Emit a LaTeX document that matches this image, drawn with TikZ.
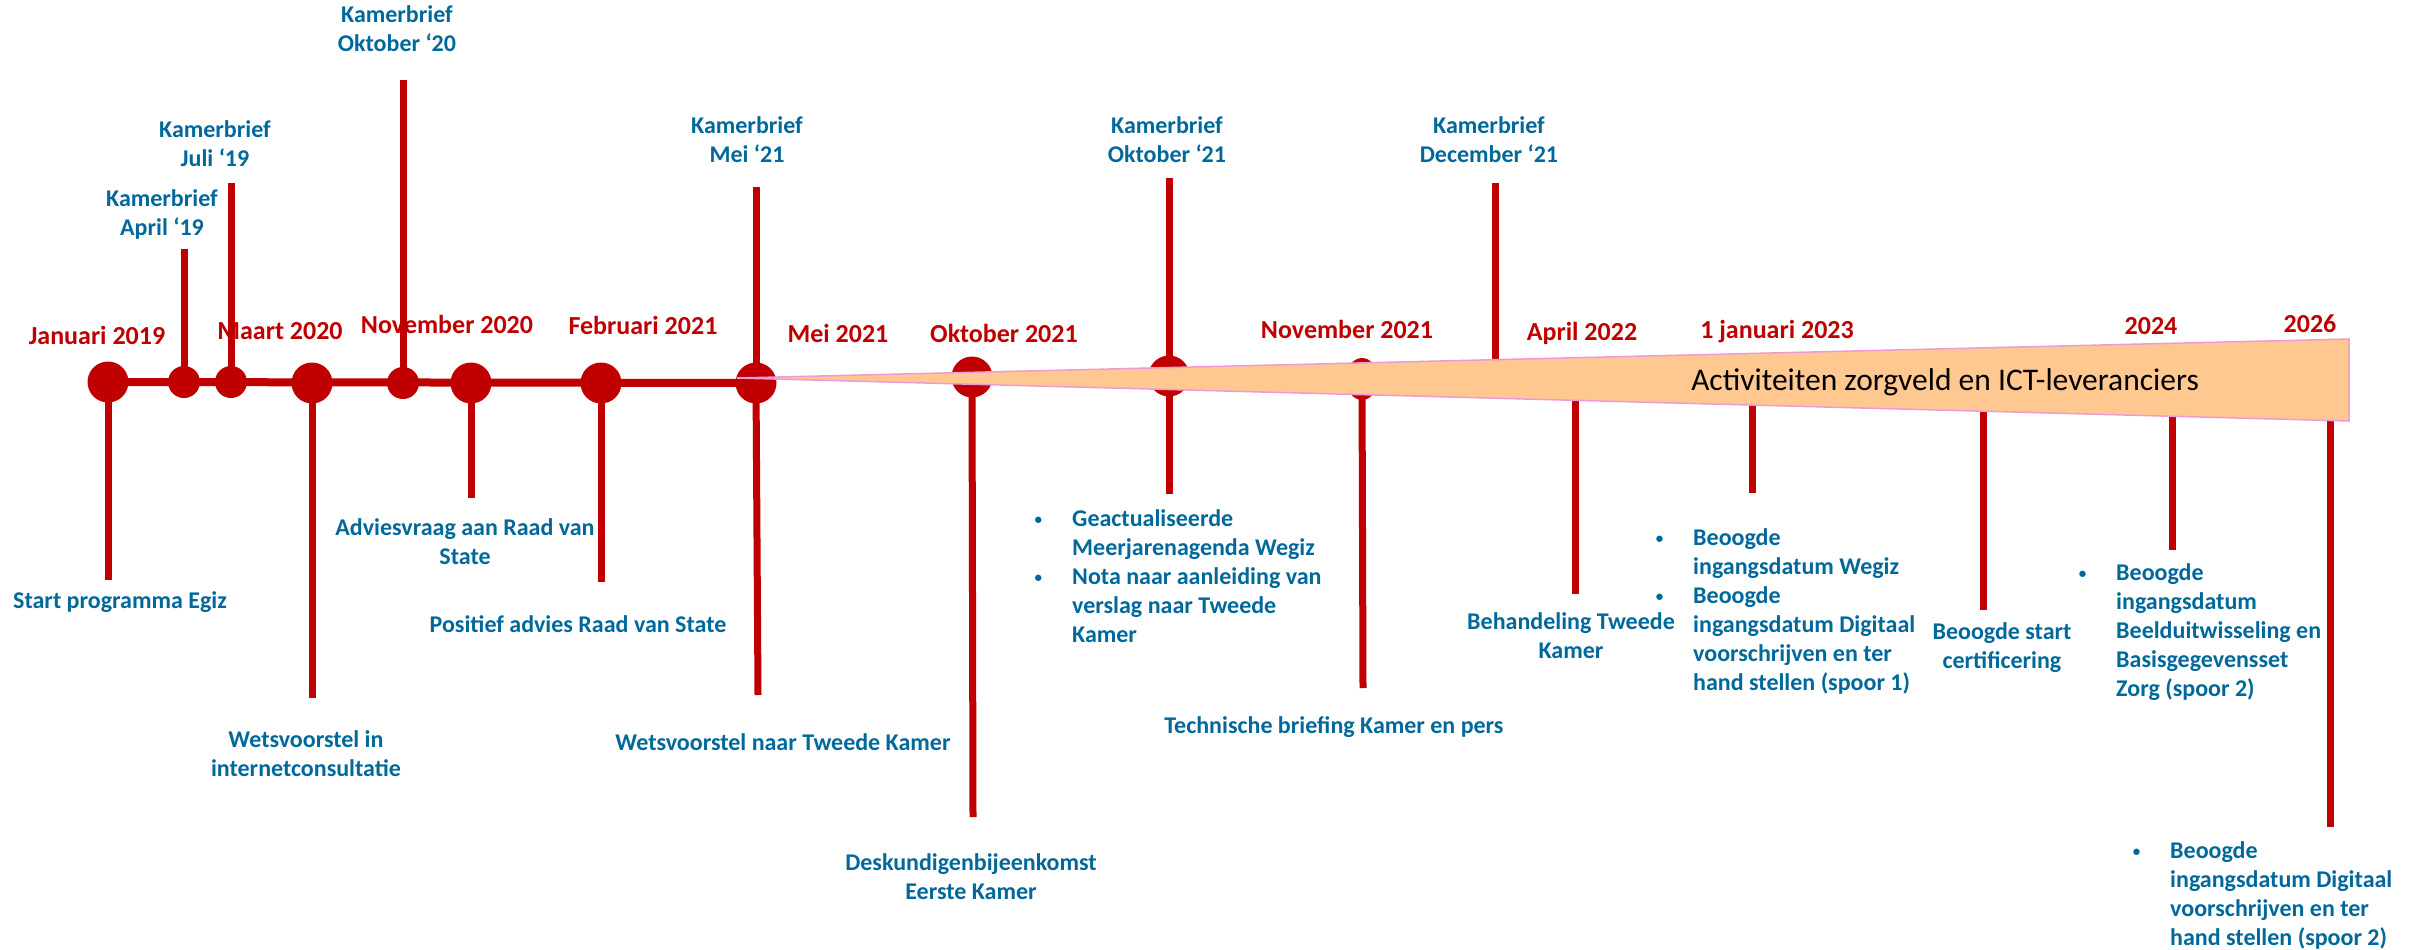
\documentclass[tikz,border=0pt]{standalone}
\usepackage{fontspec}
\setmainfont{Carlito}
\usetikzlibrary{shapes.geometric}
\definecolor{egizred}{HTML}{C00000}
\definecolor{egizblue}{HTML}{01689B}
\definecolor{wedgefill}{HTML}{FFC891}
\definecolor{wedgeline}{HTML}{EE9AD6}
\newcommand{\lns}[2][c]{\begin{tabular}[t]{@{}#1@{}}#2\end{tabular}}
\newcommand{\bul}{\llap{\raisebox{2pt}{\fontsize{15}{15}\selectfont\textbullet}\hspace{30pt}}}

\begin{document}
\begin{tikzpicture}[x=1pt, y=-1pt]

    % Styles
    \tikzstyle{axis}=[egizred, line width=8pt]
    \tikzstyle{stem}=[egizred, line width=7pt]
    \tikzstyle{dot}=[circle, fill=egizred, inner sep=0pt, minimum size=41pt]
    \tikzstyle{small dot}=[dot, minimum size=32pt]
    \tikzstyle{date}=[egizred, inner sep=0pt, anchor=base, font=\fontsize{26}{31}\selectfont\bfseries]
    \tikzstyle{event}=[egizblue, inner sep=0pt, anchor=base, font=\fontsize{24}{29}\selectfont\bfseries]

    \useasboundingbox (0,0) rectangle (2420,950);

    % dots on the time line
    \node[dot] (d1) at (108,382) {};
    \node[small dot] (d2) at (184,382) {};
    \node[small dot] (d3) at (231,382) {};
    \node[dot] (d4) at (312,383) {};
    \node[small dot] (d5) at (403,383) {};
    \node[dot] (d6) at (471,383) {};
    \node[dot] (d7) at (601,383) {};
    \node[dot] (d8) at (756,383) {};
    \node[dot] (d9) at (972,377) {};
    \node[dot] (d10) at (1169,376) {};
    \node[ellipse, fill=egizred, inner sep=0pt, minimum width=32pt, minimum height=42pt] (d11) at (1362,379) {};

    % stem ends
    \coordinate (u2) at (184,249);
    \coordinate (u3) at (231,183);
    \coordinate (u5) at (403,80);
    \coordinate (u8) at (756,187);
    \coordinate (u10) at (1169,178);
    \coordinate (u12) at (1495,183);
    \coordinate (w12) at (1495,370);
    \coordinate (b1) at (108,580);
    \coordinate (b4) at (312,698);
    \coordinate (b6) at (471,498);
    \coordinate (b7) at (601,582);
    \coordinate (b8) at (758,695);
    \coordinate (b9) at (973,817);
    \coordinate (b10) at (1169,494);
    \coordinate (b11) at (1363,688);
    \coordinate (w13) at (1575,380);
    \coordinate (b13) at (1575,594);
    \coordinate (w14) at (1752,380);
    \coordinate (b14) at (1752,493);
    \coordinate (w15) at (1983,380);
    \coordinate (b15) at (1983,610);
    \coordinate (w16) at (2172,380);
    \coordinate (b16) at (2172,550);
    \coordinate (w17) at (2330,380);
    \coordinate (b17) at (2330,827);

    % time line and stems
    \draw[axis] (d1.center) -- (d8.center);
    \foreach \d/\e in {d2/u2, d3/u3, d5/u5, d8/u8, d10/u10, d1/b1, d4/b4, d6/b6,
                       d7/b7, d8/b8, d9/b9, d10/b10, d11/b11}
        \draw[stem] (\d.center) -- (\e);
    \foreach \s/\e in {u12/w12, w13/b13, w14/b14, w15/b15, w16/b16, w17/b17}
        \draw[stem] (\s) -- (\e);

    % wedge
    \draw[wedgeline, line width=1.5pt, fill=wedgefill] (737,378) -- (2349,339) -- (2349,421) -- cycle;
    \node[inner sep=0pt, anchor=base, font=\fontsize{31.5}{37}\selectfont] (act) at (1945,390)
        {Activiteiten zorgveld en ICT-leveranciers};

    % dates
    \node[date] (t1) at (97,344) {Januari 2019};
    \node[date] (t4) at (280,339) {Maart 2020};
    \node[date] (t6) at (447,333) {November 2020};
    \node[date] (t7) at (643,334) {Februari 2021};
    \node[date] (t8) at (838,342) {Mei 2021};
    \node[date] (t9) at (1004,342) {Oktober 2021};
    \node[date] (t11) at (1347,338) {November 2021};
    \node[date] (t13) at (1582,340) {April 2022};
    \node[date] (t14) at (1777,338) {1 januari 2023};
    \node[date] (t16) at (2151,334) {2024};
    \node[date] (t17) at (2310,332) {2026};

    % letters to parliament
    \node[event] (k2) at (162,206) {\lns{Kamerbrief\\ April ‘19}};
    \node[event] (k3) at (215,137) {\lns{Kamerbrief\\ Juli ‘19}};
    \node[event] (k5) at (397,23) {\lns{Kamerbrief\\ Oktober ‘20}};
    \node[event] (k8) at (747,133) {\lns{Kamerbrief\\ Mei ‘21}};
    \node[event] (k10) at (1167,133) {\lns{Kamerbrief\\ Oktober ‘21}};
    \node[event] (k12) at (1489,133) {\lns{Kamerbrief\\ December ‘21}};

    % events
    \node[event] (e1) at (120,608) {Start programma Egiz};
    \node[event] (e4) at (306,747) {\lns{Wetsvoorstel in\\ internetconsultatie}};
    \node[event] (e6) at (465,535) {\lns{Adviesvraag aan Raad van\\ State}};
    \node[event] (e7) at (578,632) {Positief advies Raad van State};
    \node[event] (e8) at (783,750) {Wetsvoorstel naar Tweede Kamer};
    \node[event] (e9) at (971,870) {\lns{Deskundigenbijeenkomst\\ Eerste Kamer}};
    \node[event, anchor=base west] (e10) at (1072,526)
        {\lns[l]{\bul Geactualiseerde\\ Meerjarenagenda Wegiz\\ \bul Nota naar aanleiding van\\ verslag naar Tweede\\ Kamer}};
    \node[event] (e11) at (1334,733) {Technische briefing Kamer en pers};
    \node[event] (e13) at (1571,629) {\lns{Behandeling Tweede\\ Kamer}};
    \node[event, anchor=base west] (e14) at (1693,545)
        {\lns[l]{\bul Beoogde\\ ingangsdatum Wegiz\\ \bul Beoogde\\ ingangsdatum Digitaal\\ voorschrijven en ter\\ hand stellen (spoor 1)}};
    \node[event] (e15) at (2002,639) {\lns{Beoogde start\\ certificering}};
    \node[event, anchor=base west] (e16) at (2116,580)
        {\lns[l]{\bul Beoogde\\ ingangsdatum\\ Beelduitwisseling en\\ Basisgegevensset\\ Zorg (spoor 2)}};
    \node[event, anchor=base west] (e17) at (2170,858)
        {\lns[l]{\bul Beoogde\\ ingangsdatum Digitaal\\ voorschrijven en ter\\ hand stellen (spoor 2)}};

\end{tikzpicture}
\end{document}
